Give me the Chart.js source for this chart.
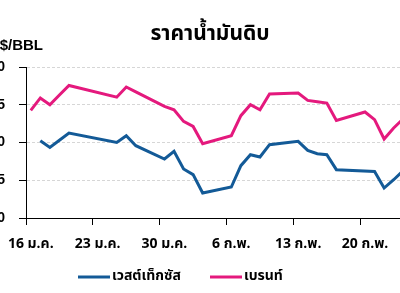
<!DOCTYPE html>
<html>
<head>
<meta charset="utf-8">
<script src="https://cdn.jsdelivr.net/npm/chart.js@4.4.0/dist/chart.umd.min.js"></script>
<style>
  html, body { margin: 0; padding: 0; background: #fff; overflow: hidden; width: 400px; height: 293px; }
  #wrap { position: absolute; left: -20px; top: 0; width: 456px; height: 293px; }
</style>
</head>
<body>
<div id="wrap"><canvas id="c" width="456" height="293"></canvas></div>
<script>
const chartTitle = 'ราคาน้ำมันดิบ';
const unitLabel = 'US$/BBL';
const seriesNames = ['เวสต์เท็กซัส', 'เบรนท์'];
const dates = [
  '16 ม.ค.','17 ม.ค.','18 ม.ค.','19 ม.ค.','20 ม.ค.','21 ม.ค.','22 ม.ค.','23 ม.ค.','24 ม.ค.','25 ม.ค.',
  '26 ม.ค.','27 ม.ค.','28 ม.ค.','29 ม.ค.','30 ม.ค.','31 ม.ค.','1 ก.พ.','2 ก.พ.','3 ก.พ.','4 ก.พ.',
  '5 ก.พ.','6 ก.พ.','7 ก.พ.','8 ก.พ.','9 ก.พ.','10 ก.พ.','11 ก.พ.','12 ก.พ.','13 ก.พ.','14 ก.พ.',
  '15 ก.พ.','16 ก.พ.','17 ก.พ.','18 ก.พ.','19 ก.พ.','20 ก.พ.','21 ก.พ.','22 ก.พ.','23 ก.พ.','24 ก.พ.'
];
const wti = [
  null, 80.24, 79.35, 80.3, 81.26, null, null, null, null, 80.01,
  80.9, 79.58, null, null, 77.81, 78.82, 76.49, 75.74, 73.31, null,
  null, 74.1, 76.93, 78.38, 78.08, 79.71, null, null, 80.15, 78.95,
  78.52, 78.38, 76.4, null, null, null, 76.17, 73.97, 75.07, 76.27
];
const brent = [
  84.25, 85.9, 85.0, 86.3, 87.56, null, null, null, null, 86.0,
  87.35, 86.7, null, null, 84.78, 84.34, 82.79, 82.13, 79.84, null,
  null, 80.9, 83.55, 85.0, 84.34, 86.42, null, null, 86.56, 85.58,
  85.4, 85.23, 82.93, null, null, 84.04, 83.02, 80.46, 81.92, 83.15
];
const yTicks = [70, 75, 80, 85, 90];

const THAI = 'Tahoma, "Noto Sans Thai", "Noto Sans Thai UI", "Liberation Sans", Arial, sans-serif';
const colors = ['#135a97', '#e4197d'];

const deco = {
  id: 'deco',
  afterDraw(chart) {
    const ctx = chart.ctx;
    ctx.save();
    ctx.fillStyle = '#000';
    ctx.textBaseline = 'alphabetic';
    ctx.font = 'bold 21px ' + THAI;
    ctx.textAlign = 'center';
    ctx.fillText(chartTitle, 230, 40);
    ctx.font = 'bold 15px "Liberation Sans", Arial, sans-serif';
    ctx.textAlign = 'right';
    ctx.fillText(unitLabel, 63, 50);
    // legend
    const items = [
      {x: 98, name: seriesNames[0], color: colors[0]},
      {x: 230, name: seriesNames[1], color: colors[1]}
    ];
    ctx.font = 'bold 14px ' + THAI;
    ctx.textAlign = 'left';
    ctx.textBaseline = 'middle';
    items.forEach(it => {
      ctx.strokeStyle = it.color;
      ctx.lineWidth = 3;
      ctx.beginPath();
      ctx.moveTo(it.x, 277);
      ctx.lineTo(it.x + 32, 277);
      ctx.stroke();
      ctx.fillStyle = '#000';
      ctx.fillText(it.name, it.x + 34, 277);
    });
    ctx.restore();
  }
};

new Chart(document.getElementById('c'), {
  type: 'line',
  data: {
    labels: dates,
    datasets: [
      { label: seriesNames[0], data: wti, borderColor: colors[0], backgroundColor: colors[0], borderWidth: 3, pointRadius: 0, tension: 0, spanGaps: true },
      { label: seriesNames[1], data: brent, borderColor: colors[1], backgroundColor: colors[1], borderWidth: 3, pointRadius: 0, tension: 0, spanGaps: true }
    ]
  },
  options: {
    responsive: false,
    animation: false,
    devicePixelRatio: 1,
    layout: { padding: { top: 67, left: 0, right: 28, bottom: 0 } },
    plugins: { legend: { display: false }, title: { display: false }, tooltip: { enabled: false } },
    scales: {
      x: {
        type: 'category',
        offset: true,
        afterFit(s) { s.height = 75; },
        grid: {
          offset: true,
          drawOnChartArea: false,
          tickLength: 7,
          tickColor: c => (c.index % 7 === 0 ? '#000' : 'rgba(0,0,0,0)')
        },
        border: { color: '#000', width: 1 },
        ticks: {
          autoSkip: false,
          maxRotation: 0,
          minRotation: 0,
          padding: 12,
          color: '#000',
          font: { family: THAI, size: 14, weight: 'bold' },
          callback(v, i) { return i % 7 === 0 ? this.getLabelForValue(v) : ''; }
        }
      },
      y: {
        min: 70,
        max: 90,
        afterFit(s) { s.width = 46; },
        afterBuildTicks(s) { s.ticks = yTicks.map(v => ({ value: v })); },
        grid: {
          color: c => (c.tick && c.tick.value === 70 ? 'rgba(0,0,0,0)' : '#d6d6d6'),
          tickLength: 7,
          tickColor: '#000'
        },
        border: { color: '#000', width: 1, dash: [3, 2] },
        ticks: {
          padding: 14,
          color: '#000',
          font: { family: '"Liberation Sans", Arial, sans-serif', size: 14, weight: 'bold' }
        }
      }
    }
  },
  plugins: [deco]
});
</script>
</body>
</html>
